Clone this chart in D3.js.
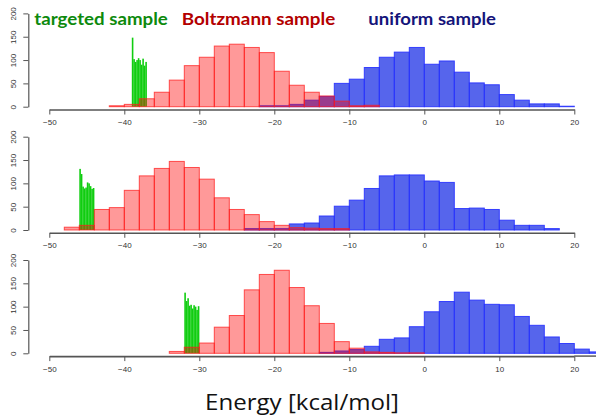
<!DOCTYPE html>
<html lang="en">
<head>
  <meta charset="UTF-8" />
  <title>Energy histograms</title>
  <script src="https://d3js.org/d3.v7.min.js"></script>
  <style>
    body { margin: 0; background: #fff; }
    .tick text { font-family: "Liberation Sans", Arial, sans-serif; font-size: 8px; fill: #333; }
    .tick line, .domain { stroke: #555; }
    .legend { font-family: Lato, "Open Sans", sans-serif; font-weight: bold; font-size: 17px; }
  </style>
</head>
<body>
  <svg id="chart" width="596" height="419"></svg>

  <script>
    const binWidth = 2;
    const greenWidth = 0.2;

    // panel 1
    const redStart1 = -42;
    const red1 = [2, 5, 17, 31, 57, 88, 106, 130, 134, 127, 116, 76, 46, 31, 23, 12, 2, 3];
    const blueStart1 = -22;
    const blue1 = [2, 2, 5, 14, 22, 50, 59, 84, 106, 117, 127, 91, 98, 74, 51, 47, 26, 14, 6, 6, 1];
    const greenStart1 = -39;
    const green1 = [148, 102, 96, 100, 104, 100, 90, 103, 88, 96];

    // panel 2
    const redStart2 = -48;
    const red2 = [6, 10, 44, 48, 85, 116, 132, 147, 134, 109, 69, 44, 33, 18, 10, 5, 4, 3, 3];
    const blueStart2 = -24;
    const blue2 = [3, 3, 3, 13, 15, 30, 51, 64, 89, 116, 118, 118, 105, 102, 46, 47, 44, 21, 10, 10, 3];
    const greenStart2 = -46;
    const green2 = [131, 120, 93, 89, 91, 102, 100, 94, 88, 90];

    // panel 3
    const redStart3 = -34;
    const red3 = [4, 13, 22, 56, 81, 136, 169, 178, 141, 102, 64, 25, 11, 3, 2, 1, 1];
    const blueStart3 = -14;
    const blue3 = [2, 5, 8, 15, 30, 33, 57, 89, 111, 131, 114, 105, 104, 79, 60, 35, 21, 9, 3];
    const greenStart3 = -32;
    const green3 = [130, 112, 118, 102, 104, 96, 103, 100, 93, 101];

    const xTicks = [-50, -40, -30, -20, -10, 0, 10, 20];
    const yTicks = [0, 50, 100, 150, 200];
    const legendLabels = ["targeted sample", "Boltzmann sample", "uniform sample"];
    const xTitle = "Energy [kcal/mol]";

    const W = 596;
    const svg = d3.select("#chart");

    const x = d3.scaleLinear().domain([-50, 20]).range([49.3, 574.3]);

    const panels = [
      { red: red1, redStart: redStart1, blue: blue1, blueStart: blueStart1, green: green1, greenStart: greenStart1, base: 106.7, extend: false },
      { red: red2, redStart: redStart2, blue: blue2, blueStart: blueStart2, green: green2, greenStart: greenStart2, base: 230, extend: false },
      { red: red3, redStart: redStart3, blue: blue3, blueStart: blueStart3, green: green3, greenStart: greenStart3, base: 353.3, extend: true }
    ];

    const toBins = (arr, start, w) => arr.map((v, i) => ({ x0: start + i * w, x1: start + (i + 1) * w, n: v }));

    panels.forEach(p => {
      const y = d3.scaleLinear().domain([0, 200]).range([p.base, p.base - 93.3]);
      const g = svg.append("g");

      // uniform sample (blue)
      g.selectAll("rect.blue")
        .data(toBins(p.blue, p.blueStart, binWidth))
        .enter().append("rect")
        .attr("x", d => x(d.x0))
        .attr("y", d => y(d.n))
        .attr("width", d => x(d.x1) - x(d.x0))
        .attr("height", d => y(0) - y(d.n))
        .attr("fill", "rgba(30,50,230,0.75)")
        .attr("stroke", "rgba(40,50,255,0.9)")
        .attr("stroke-width", 1);

      // targeted sample (green)
      g.selectAll("rect.green")
        .data(toBins(p.green, p.greenStart, greenWidth))
        .enter().append("rect")
        .attr("x", d => x(d.x0))
        .attr("y", d => y(d.n))
        .attr("width", d => x(d.x1) - x(d.x0) + 0.1)
        .attr("height", d => y(0) - y(d.n))
        .attr("fill", "#10cd10");

      // Boltzmann sample (red)
      g.selectAll("rect.red")
        .data(toBins(p.red, p.redStart, binWidth))
        .enter().append("rect")
        .attr("x", d => x(d.x0))
        .attr("y", d => y(d.n))
        .attr("width", d => x(d.x1) - x(d.x0))
        .attr("height", d => y(0) - y(d.n))
        .attr("fill", "rgba(255,0,0,0.4)")
        .attr("stroke", "rgba(255,30,30,0.75)")
        .attr("stroke-width", 1);

      // x axis
      const axisY = p.base + 2.8;
      const xa = svg.append("g")
        .attr("transform", `translate(0,${axisY})`)
        .call(d3.axisBottom(x).tickValues(xTicks).tickSize(5).tickSizeOuter(0).tickPadding(5));
      xa.select(".domain").attr("stroke", "#666").attr("stroke-width", 1.6);
      if (p.extend) {
        xa.append("line")
          .attr("x1", x.range()[1]).attr("x2", W)
          .attr("stroke", "#666").attr("stroke-width", 1.6);
      }

      // y axis
      const ya = svg.append("g")
        .attr("transform", "translate(28.3,0)")
        .call(d3.axisLeft(y).tickValues(yTicks).tickSize(5).tickSizeOuter(0));
      ya.select(".domain").attr("stroke", "#444").attr("stroke-width", 1.2);
      ya.selectAll(".tick text")
        .attr("x", null).attr("dy", null)
        .attr("text-anchor", "middle")
        .attr("transform", "translate(-12,0) rotate(-90)")
        .attr("y", 0);
    });

    // legend
    const legendX = [34.3, 181.7, 368.3];
    const legendW = [133.5, 153.5, 127.7];
    const legendColors = ["#0d8a0d", "#b30000", "#14147a"];
    legendLabels.forEach((t, i) => {
      svg.append("text")
        .attr("class", "legend")
        .attr("x", legendX[i])
        .attr("y", 25)
        .attr("fill", legendColors[i])
        .attr("textLength", legendW[i])
        .attr("lengthAdjust", "spacingAndGlyphs")
        .text(t);
    });

    svg.append("text")
      .attr("x", 205)
      .attr("y", 409.5)
      .attr("font-family", "'Open Sans', sans-serif")
      .attr("font-size", 22)
      .attr("fill", "#111")
      .attr("textLength", 194)
      .attr("lengthAdjust", "spacingAndGlyphs")
      .text(xTitle);
  </script>
</body>
</html>
